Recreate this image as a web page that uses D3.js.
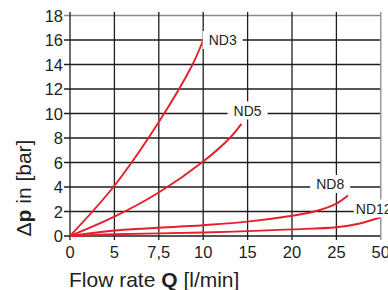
<!DOCTYPE html>
<html lang="en">
<head>
	<meta charset="UTF-8">
	<title>Pressure drop</title>
	<script src="https://cdn.jsdelivr.net/npm/d3@7"></script>
	<style>
		body{
			margin: 0px;
			background: #fff;
		}
		text{
			font-family: "Liberation Sans", Arial, sans-serif;
			fill: #231f20;
		}
	</style>
</head>
<body>
	<svg></svg>
	<script>
		// flow rate ticks (axis is not linear, each step gets same width)
		var xTicks = [0, 5, 7.5, 10, 15, 20, 25, 50];
		var yTicks = [0, 2, 4, 6, 8, 10, 12, 14, 16, 18];

		// Q [l/min] and dp [bar]
		var nd3Q  = [0, 5, 7.5, 9.4, 10];
		var nd3P  = [0, 4.1, 9.3, 14, 16];
		var nd5Q  = [0, 5, 7.5, 10, 13, 14.3];
		var nd5P  = [0, 1.58, 3.55, 6.08, 8, 9.15];
		var nd8Q  = [0, 5, 10, 15, 20, 22.5, 25, 31.5];
		var nd8P  = [0, 0.45, 0.88, 1.17, 1.65, 2, 2.65, 3.3];
		var nd12Q = [0, 5, 10, 15, 20, 25, 37.5, 50];
		var nd12P = [0, 0.14, 0.28, 0.4, 0.54, 0.72, 1.0, 1.53];

		var names = ["ND3", "ND5", "ND8", "ND12"];
		// where the names sit, in chart units
		var labelQ = [12.2, 15, 24.3, 46];
		var labelP = [16, 10, 4, 2];

		var w = 388,
			h = 290,
			svg = d3.select("svg").attr("width", w).attr("height", h);

		var x = d3.scaleLinear()
			.domain(xTicks)
			.range(xTicks.map(function(d, i) { return 70 + i * 44.4; }));
		var y = d3.scaleLinear().domain([0, 18]).range([236, 15.5]);

		var grid = svg.append("g");
		grid.selectAll(".h")
			.data(yTicks)
			.enter().append("line")
			.attr("x1", 64).attr("x2", x(50))
			.attr("y1", y).attr("y2", y)
			.attr("stroke", function(d) { return d == 18 ? "#8a8a8a" : "#1e1e1e"; })
			.attr("stroke-width", 1.3);
		grid.selectAll(".v")
			.data(xTicks)
			.enter().append("line")
			.attr("x1", x).attr("x2", x)
			.attr("y1", 12).attr("y2", 240)
			.attr("stroke", function(d) { return d == 50 ? "#8a8a8a" : "#1e1e1e"; })
			.attr("stroke-width", 1.3);

		svg.selectAll(".yl")
			.data(yTicks)
			.enter().append("text")
			.attr("x", 63)
			.attr("y", function(d) { return y(d) + 6; })
			.attr("text-anchor", "end")
			.attr("font-size", 16.5)
			.text(function(d) { return d; });

		svg.selectAll(".xl")
			.data(xTicks)
			.enter().append("text")
			.attr("x", x)
			.attr("y", 258)
			.attr("text-anchor", "middle")
			.attr("font-size", 16.5)
			.text(function(d) { return String(d).replace(".", ","); });

		var line = d3.line()
			.x(function(d) { return x(d[0]); })
			.y(function(d) { return y(d[1]); })
			.curve(d3.curveCatmullRom);

		var curves = [d3.zip(nd3Q, nd3P), d3.zip(nd5Q, nd5P), d3.zip(nd8Q, nd8P), d3.zip(nd12Q, nd12P)];

		svg.selectAll(".curve")
			.data(curves)
			.enter().append("path")
			.attr("d", line)
			.attr("fill", "none")
			.attr("stroke", "#e5202a")
			.attr("stroke-width", 1.9);

		var labels = svg.selectAll(".lab")
			.data(names)
			.enter().append("g")
			.attr("transform", function(d, i) {
				return "translate(" + x(labelQ[i]) + "," + (y(labelP[i]) - (i > 0 ? 3 : 0)) + ")";
			});
		labels.append("rect")
			.attr("x", -20).attr("y", -9)
			.attr("width", 40).attr("height", 18)
			.attr("fill", "#fff");
		labels.append("text")
			.attr("text-anchor", "middle")
			.attr("y", 5)
			.attr("font-size", 14)
			.text(function(d) { return d; });

		var xt = svg.append("text")
			.attr("x", 69).attr("y", 287)
			.attr("font-size", 21);
		xt.append("tspan").text("Flow rate ");
		xt.append("tspan").attr("font-weight", "bold").text("Q");
		xt.append("tspan").text(" [l/min]");

		var yt = svg.append("text")
			.attr("transform", "translate(31,188) rotate(-90)")
			.attr("text-anchor", "middle")
			.attr("font-size", 21);
		yt.append("tspan").text("\u0394");
		yt.append("tspan").attr("font-weight", "bold").text("p");
		yt.append("tspan").text(" in [bar]");
	</script>
</body>
</html>
